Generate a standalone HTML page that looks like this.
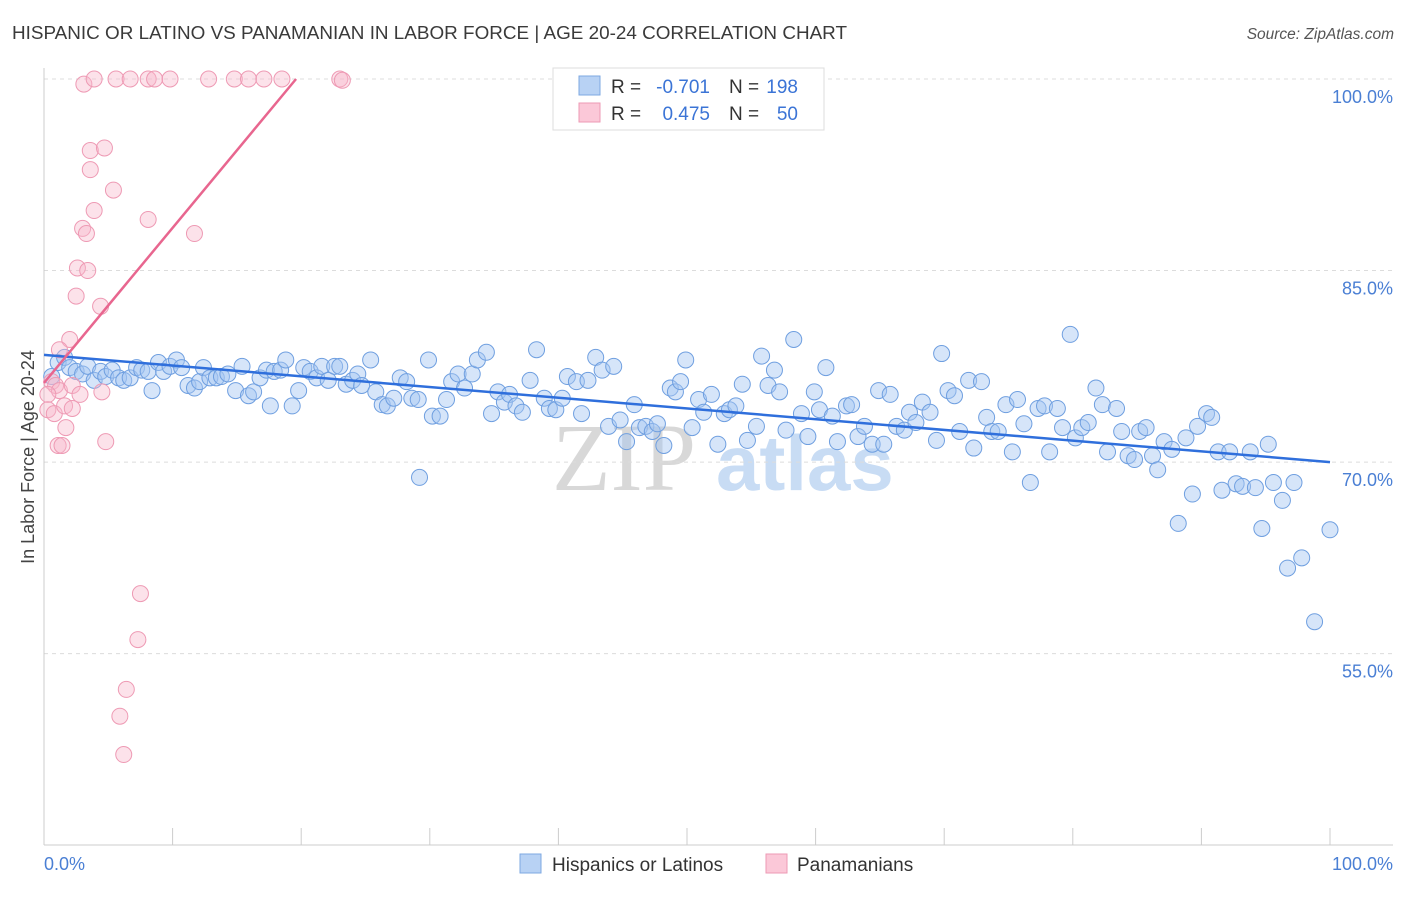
<!DOCTYPE html>
<html><head><meta charset="utf-8">
<style>
html,body{margin:0;padding:0;background:#fff;}
body{width:1406px;height:892px;overflow:hidden;font-family:"Liberation Sans",sans-serif;}
</style></head>
<body>
<svg id="chart" width="1406" height="892" xmlns="http://www.w3.org/2000/svg" style="font-family:'Liberation Sans',sans-serif">
<text x="12" y="39" font-size="18.5" fill="#3a3a3a" textLength="835" lengthAdjust="spacingAndGlyphs">HISPANIC OR LATINO VS PANAMANIAN IN LABOR FORCE | AGE 20-24 CORRELATION CHART</text>
<text x="1394" y="39" font-size="15.5" fill="#555" text-anchor="end" font-style="italic">Source: ZipAtlas.com</text>
<g>
<text x="552" y="490" font-size="96" fill="#d8d8d8" font-family="Liberation Serif,serif">ZIP</text>
<text x="716" y="490" font-size="78" fill="#c8dcf4" font-weight="bold">atlas</text>
</g>
<g id="grid"></g>
<g id="axes"></g>
<g id="pts"></g>
<g id="lines"></g>
<text transform="translate(34,457) rotate(-90)" font-size="18" fill="#444" text-anchor="middle">In Labor Force | Age 20-24</text>
<g>
<rect x="553" y="68" width="271" height="62" fill="#fff" stroke="#ddd"/>
<rect x="579" y="76" width="21" height="19" fill="#b8d2f4" stroke="#7ea8e2"/>
<rect x="579" y="103" width="21" height="19" fill="#fbc8d8" stroke="#ee9ab4"/>
<text x="611" y="93" font-size="19" fill="#333">R =</text>
<text x="710" y="93" font-size="19" fill="#3b74d6" text-anchor="end">-0.701</text>
<text x="729" y="93" font-size="19" fill="#333">N =</text>
<text x="798" y="93" font-size="19" fill="#3b74d6" text-anchor="end">198</text>
<text x="611" y="120" font-size="19" fill="#333">R =</text>
<text x="710" y="120" font-size="19" fill="#3b74d6" text-anchor="end">0.475</text>
<text x="729" y="120" font-size="19" fill="#333">N =</text>
<text x="798" y="120" font-size="19" fill="#3b74d6" text-anchor="end">50</text>
</g>
<g>
<rect x="520" y="854" width="21" height="19" fill="#b8d2f4" stroke="#7ea8e2"/>
<text x="552" y="871" font-size="19" fill="#333">Hispanics or Latinos</text>
<rect x="766" y="854" width="21" height="19" fill="#fbc8d8" stroke="#ee9ab4"/>
<text x="797" y="871" font-size="19" fill="#333">Panamanians</text>
</g>
</svg>
<script>
const yTicks=[100,85,70,55];
const yTickLabels=["100.0%","85.0%","70.0%","55.0%"];
const blueX=[0.6,1.1,1.6,2.0,2.5,3.0,3.4,3.9,4.4,4.8,5.3,5.8,6.2,6.7,7.2,7.6,8.1,8.4,8.9,9.3,9.8,10.3,10.7,11.2,11.7,12.1,12.4,12.9,13.4,13.8,14.3,14.9,15.4,15.9,16.3,16.8,17.3,17.6,17.9,18.4,18.8,19.3,19.8,20.2,20.7,21.2,21.6,22.1,22.6,23.0,23.5,24.0,24.4,24.7,25.4,25.8,26.3,26.7,27.2,27.7,28.2,28.6,29.1,29.9,30.2,30.8,31.3,31.7,32.2,32.7,33.3,33.7,34.4,34.8,35.3,35.8,36.2,36.7,37.2,37.8,38.3,38.9,39.3,39.8,40.3,40.7,41.4,41.8,42.3,42.9,43.4,43.9,44.3,44.8,45.3,45.9,46.3,46.8,47.3,47.7,48.2,48.7,49.1,49.5,49.9,50.4,50.9,51.3,51.9,52.4,52.9,53.3,53.8,54.3,54.7,55.4,55.8,56.3,56.8,57.2,57.7,58.3,58.9,59.4,59.9,60.3,60.8,61.3,61.7,62.4,62.8,63.3,63.8,64.4,64.9,65.3,65.8,66.3,66.9,67.3,67.8,68.3,68.9,69.4,69.8,70.3,70.8,71.2,71.9,72.3,72.9,73.3,73.7,74.2,74.8,75.3,75.7,76.2,76.7,77.3,77.8,78.2,78.8,79.2,79.8,80.2,80.7,81.2,81.8,82.3,82.7,83.4,83.8,84.3,84.8,85.2,85.7,86.2,86.6,87.1,87.7,88.2,88.8,89.3,89.7,90.4,90.8,91.3,91.6,92.2,92.7,93.2,93.8,94.2,94.7,95.2,95.6,96.3,96.7,97.2,97.8,98.8,100.0,29.2];
const blueY=[76.7,77.8,78.2,77.4,77.1,76.9,77.5,76.4,77.1,76.7,77.2,76.6,76.4,76.6,77.4,77.2,77.1,75.6,77.8,77.1,77.5,78.0,77.4,76.0,75.8,76.3,77.4,76.6,76.6,76.7,76.9,75.6,77.5,75.2,75.5,76.6,77.2,74.4,77.1,77.2,78.0,74.4,75.6,77.4,77.1,76.6,77.5,76.4,77.5,77.5,76.1,76.4,76.9,76.0,78.0,75.5,74.5,74.4,75.0,76.6,76.3,75.0,74.9,78.0,73.6,73.6,74.9,76.3,76.9,75.8,76.9,78.0,78.6,73.8,75.5,74.7,75.3,74.4,73.9,76.4,78.8,75.0,74.2,74.1,75.0,76.7,76.3,73.8,76.4,78.2,77.2,72.8,77.5,73.3,71.6,74.5,72.7,72.8,72.4,73.0,71.3,75.8,75.5,76.3,78.0,72.7,74.9,73.9,75.3,71.4,73.8,74.1,74.4,76.1,71.7,72.8,78.3,76.0,77.2,75.5,72.5,79.6,73.8,72.0,75.5,74.1,77.4,73.6,71.6,74.4,74.5,72.0,72.8,71.4,75.6,71.4,75.3,72.8,72.5,73.9,73.1,74.7,73.9,71.7,78.5,75.6,75.2,72.4,76.4,71.1,76.3,73.5,72.4,72.4,74.5,70.8,74.9,73.0,68.4,74.2,74.4,70.8,74.2,72.7,80.0,71.9,72.7,73.1,75.8,74.5,70.8,74.2,72.4,70.5,70.2,72.4,72.7,70.5,69.4,71.6,71.0,65.2,71.9,67.5,72.8,73.8,73.5,70.8,67.8,70.8,68.3,68.1,70.8,68.0,64.8,71.4,68.4,67.0,61.7,68.4,62.5,57.5,64.7,68.8];
const pinkX=[3.1,3.9,5.6,6.7,8.1,8.6,9.8,12.8,14.8,15.9,17.1,18.5,23.0,23.2,3.6,4.7,3.6,5.4,3.9,8.1,3.0,3.3,11.7,2.6,3.4,2.5,4.4,2.0,1.2,0.6,0.9,1.2,0.3,2.2,2.8,4.5,0.3,0.8,1.6,2.2,1.7,1.1,1.4,4.8,7.5,7.3,6.4,5.9,6.2];
const pinkY=[99.6,100,100,100,100,100,100,100,100,100,100,100,100,99.9,94.4,94.6,92.9,91.3,89.7,89.0,88.3,87.9,87.9,85.2,85.0,83.0,82.2,79.6,78.8,76.3,76.0,75.6,75.3,76.0,75.3,75.5,74.1,73.8,74.4,74.2,72.7,71.3,71.3,71.6,59.7,56.1,52.2,50.1,47.1];
const blueTrend=[78.4,70.0];
const pinkTrend=[76.2,19.6];
const NS="http://www.w3.org/2000/svg";
const xs=v=>44+v*12.86;
const ys=v=>79+(100-v)*12.77;
function mk(tag,attrs,parent){const e=document.createElementNS(NS,tag);for(const k in attrs)e.setAttribute(k,attrs[k]);parent.appendChild(e);return e;}
const grid=document.getElementById('grid'),axes=document.getElementById('axes'),pts=document.getElementById('pts'),lines=document.getElementById('lines');
yTicks.forEach((t,i)=>{
  const l=mk('line',{x1:44,x2:1393,y1:ys(t),y2:ys(t),stroke:'#dcdcdc','stroke-dasharray':'4,4'},grid);
  
  
  const tx=mk('text',{x:1393,y:ys(t)+24,'font-size':18,fill:'#4a7fd4','text-anchor':'end'},axes);
  tx.textContent=yTickLabels[i];
  
  
});
const ax=mk('line',{x1:44,x2:1393,y1:845,y2:845,stroke:'#ccc'},axes);


const ay=mk('line',{x1:44,x2:44,y1:68,y2:845,stroke:'#ccc'},axes);


for(let i=1;i<=10;i++){
  const tk=mk('line',{x1:xs(i*10),x2:xs(i*10),y1:828,y2:845,stroke:'#ccc'},axes);
  
  
}
const x0=mk('text',{x:44,y:870,'font-size':18,fill:'#4a7fd4'},axes);x0.textContent='0.0%';


const x1=mk('text',{x:1393,y:870,'font-size':18,fill:'#4a7fd4','text-anchor':'end'},axes);x1.textContent='100.0%';


blueX.forEach((x,i)=>{
  const c=mk('circle',{cx:xs(x),cy:ys(blueY[i]),r:8,fill:'rgba(165,198,242,0.45)',stroke:'#6f9fe0','stroke-width':1},pts);
  
  
});
pinkX.forEach((x,i)=>{
  const c=mk('circle',{cx:xs(x),cy:ys(pinkY[i]),r:8,fill:'rgba(248,182,202,0.4)',stroke:'#ee9ab4','stroke-width':1},pts);
  
  
});
const bl=mk('line',{x1:xs(0),y1:ys(blueTrend[0]),x2:xs(100),y2:ys(blueTrend[1]),stroke:'#2f6fdc','stroke-width':2.5},lines);


const pl=mk('line',{x1:xs(0),y1:ys(pinkTrend[0]),x2:xs(pinkTrend[1]),y2:ys(100),stroke:'#e8668f','stroke-width':2.5},lines);


</script>
</body></html>
